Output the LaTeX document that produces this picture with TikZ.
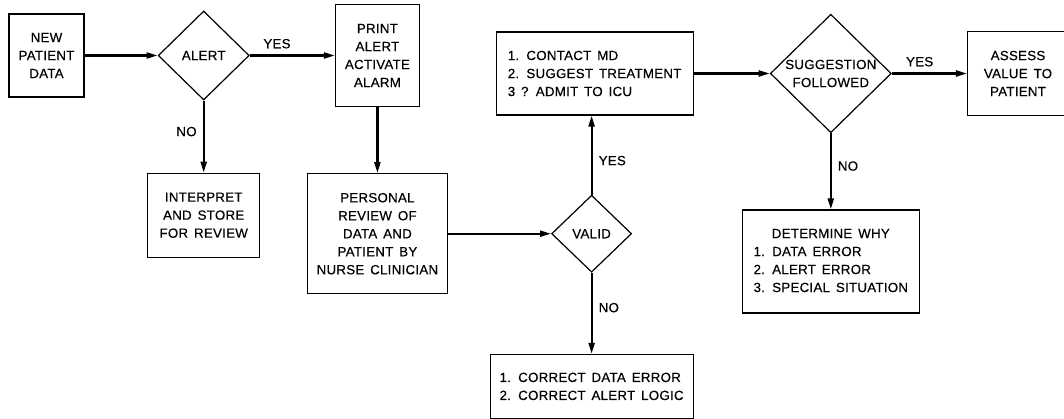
\documentclass[tikz,border=0pt]{standalone}
\usepackage{fontspec}
\setmainfont{Liberation Sans}[LetterSpace=2, WordSpace=1.5, FakeBold=0.4]
\usepackage{tikz}
\usetikzlibrary{shapes.geometric, arrows.meta, positioning}

\begin{document}
\begin{tikzpicture}[x=1pt, y=1pt,
  every node/.style={font=\fontsize{13.3}{18}\selectfont},
  box/.style={rectangle, draw=black, line width=1.2pt, align=center, inner sep=4pt},
  dec/.style={diamond, draw=black, line width=1.2pt, align=center, inner sep=0pt, aspect=1},
  arr/.style={-{Triangle[length=11pt, width=6pt]}, line width=2.2pt},
  lbl/.style={inner sep=6pt, pos=0.43},
]
\useasboundingbox (0,0) rectangle (1064,418);

\node[box, minimum width=75pt, minimum height=83pt] (new) at (46.5,362.5) {NEW\\PATIENT\\DATA};
\node[dec, minimum width=91pt, minimum height=89pt, right=73pt of new] (alert) {ALERT};
\node[box, minimum width=84pt, minimum height=102pt, right=85pt of alert] (print) {PRINT\\ALERT\\ACTIVATE\\ALARM};
\node[box, minimum width=112pt, minimum height=84pt, below=72pt of alert] (interp) {INTERPRET\\AND STORE\\FOR REVIEW};
\node[box, minimum width=140pt, minimum height=120pt, below=66pt of print] (review) {PERSONAL\\REVIEW OF\\DATA AND\\PATIENT BY\\NURSE CLINICIAN};
\node[dec, minimum width=80pt, minimum height=77pt, right=103pt of review] (valid) {VALID};
\node[box, minimum width=197pt, minimum height=83pt, align=left, above=79pt of valid, xshift=3pt] (contact)
  {1. CONTACT MD\\2. SUGGEST TREATMENT\\3 ? ADMIT TO ICU};
\node[box, minimum width=203pt, minimum height=64pt, align=left, below=81pt of valid] (correct)
  {1. CORRECT DATA ERROR\\2. CORRECT ALERT LOGIC};
\node[dec, minimum width=121pt, minimum height=118pt, right=76pt of contact] (sugg) {SUGGESTION\\FOLLOWED};
\node[box, minimum width=101pt, minimum height=84pt, right=75pt of sugg] (assess) {ASSESS\\VALUE TO\\PATIENT};
\node[box, minimum width=177pt, minimum height=103pt, below=76pt of sugg] (why)
  {\begin{tabular}{@{}l@{}}\multicolumn{1}{@{}c@{}}{DETERMINE WHY}\\1. DATA ERROR\\2. ALERT ERROR\\3. SPECIAL SITUATION\end{tabular}};

\draw[arr] (new) -- (alert);
\draw[arr] (alert) -- node[above, lbl, pos=0.32]{YES} (print);
\draw[arr] (alert) -- node[left, lbl]{NO} (interp);
\draw[arr] (print) -- (review);
\draw[arr] (review) -- (valid);
\draw[arr] (valid.north) -- node[right, lbl]{YES} (valid.north |- contact.south);
\draw[arr] (valid) -- node[right, lbl]{NO} (correct);
\draw[arr] (contact) -- (sugg);
\draw[arr] (sugg) -- node[above, lbl, pos=0.37]{YES} (assess);
\draw[arr] (sugg) -- node[right, lbl]{NO} (why);
\end{tikzpicture}
\end{document}
